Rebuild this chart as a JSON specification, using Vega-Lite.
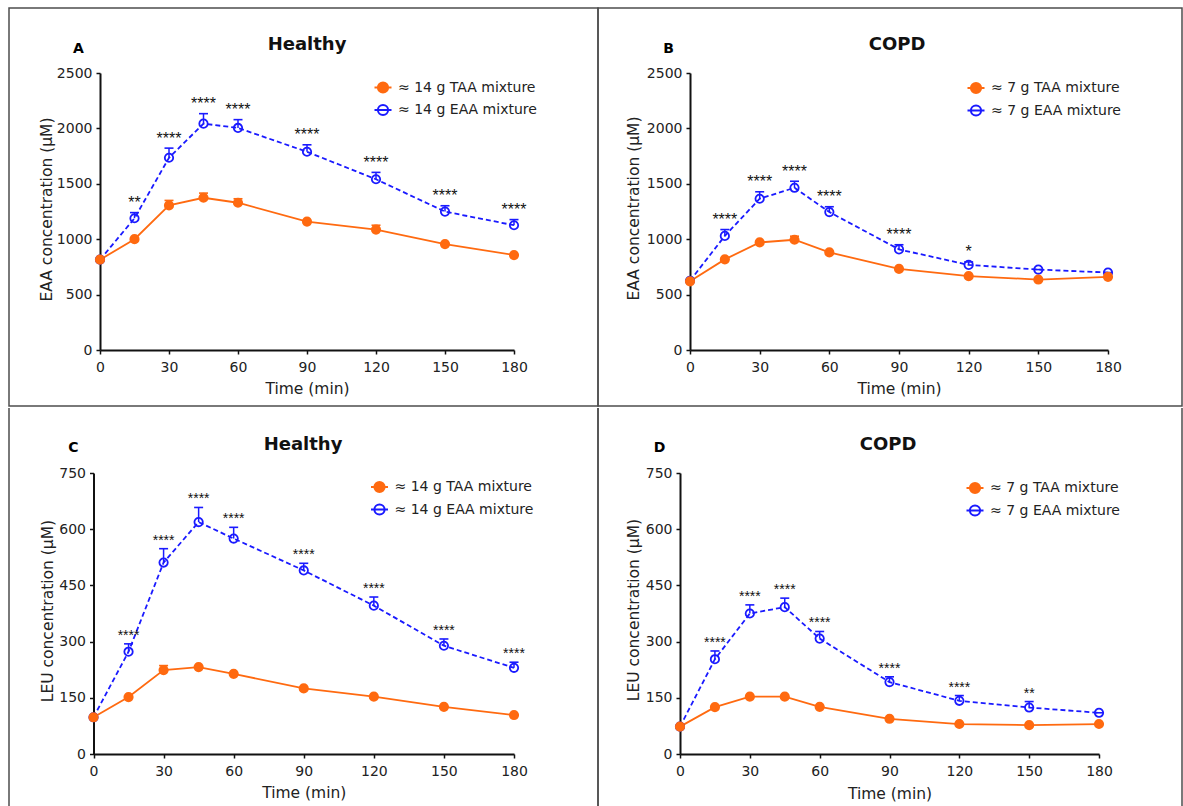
{
"$schema": "https://vega.github.io/schema/vega-lite/v6.json",
"padding": {"left": 8, "top": 7, "right": 0, "bottom": 0},
"config": {
 "font": "DejaVu Sans",
 "numberFormat": "d",
 "view": {"stroke": "#4d4d4d", "strokeWidth": 1.5},
 "axis": {"grid": false, "labelFont": "DejaVu Sans", "labelFontSize": 14, "labelColor": "#222", "labelFlush": false, "labelPadding": 4, "titleFont": "DejaVu Sans", "titleFontSize": 15.5, "titleFontWeight": "normal", "titleColor": "#222", "domainColor": "#111", "domainWidth": 2, "tickColor": "#111", "tickWidth": 1.5, "tickSize": 4},
 "axisX": {"labelPadding": 6},
 "legend": {"orient": "none", "symbolSize": 289, "symbolStrokeWidth": 2, "labelFont": "DejaVu Sans", "labelFontSize": 14, "labelColor": "#222", "labelOffset": 5.5, "rowPadding": 3.5, "padding": 0, "labelLimit": 400},
 "title": {"font": "DejaVu Sans", "fontSize": 18, "fontWeight": "bold", "color": "#111", "offset": -46, "anchor": "middle", "frame": "group"}
},
"data": {"name": "d"},
"datasets": {"d": [
 {"p":"A","s":"≈ 14 g EAA mixture","t":0,"m":815,"u":815,"st":""},
 {"p":"A","s":"≈ 14 g EAA mixture","t":15,"m":1189,"u":1240,"st":"**"},
 {"p":"A","s":"≈ 14 g EAA mixture","t":30,"m":1735,"u":1822,"st":"****"},
 {"p":"A","s":"≈ 14 g EAA mixture","t":45,"m":2043,"u":2133,"st":"****"},
 {"p":"A","s":"≈ 14 g EAA mixture","t":60,"m":2004,"u":2079,"st":"****"},
 {"p":"A","s":"≈ 14 g EAA mixture","t":90,"m":1789,"u":1852,"st":"****"},
 {"p":"A","s":"≈ 14 g EAA mixture","t":120,"m":1541,"u":1603,"st":"****"},
 {"p":"A","s":"≈ 14 g EAA mixture","t":150,"m":1249,"u":1302,"st":"****"},
 {"p":"A","s":"≈ 14 g EAA mixture","t":180,"m":1126,"u":1177,"st":"****"},
 {"p":"A","s":"≈ 14 g TAA mixture","t":0,"m":815,"u":815,"st":""},
 {"p":"A","s":"≈ 14 g TAA mixture","t":15,"m":1000,"u":1000,"st":""},
 {"p":"A","s":"≈ 14 g TAA mixture","t":30,"m":1305,"u":1350,"st":""},
 {"p":"A","s":"≈ 14 g TAA mixture","t":45,"m":1374,"u":1416,"st":""},
 {"p":"A","s":"≈ 14 g TAA mixture","t":60,"m":1329,"u":1365,"st":""},
 {"p":"A","s":"≈ 14 g TAA mixture","t":90,"m":1159,"u":1159,"st":""},
 {"p":"A","s":"≈ 14 g TAA mixture","t":120,"m":1087,"u":1126,"st":""},
 {"p":"A","s":"≈ 14 g TAA mixture","t":150,"m":956,"u":956,"st":""},
 {"p":"A","s":"≈ 14 g TAA mixture","t":180,"m":857,"u":857,"st":""},
 {"p":"B","s":"≈ 7 g EAA mixture","t":0,"m":625,"u":625,"st":""},
 {"p":"B","s":"≈ 7 g EAA mixture","t":15,"m":1030,"u":1087,"st":"****"},
 {"p":"B","s":"≈ 7 g EAA mixture","t":30,"m":1365,"u":1428,"st":"****"},
 {"p":"B","s":"≈ 7 g EAA mixture","t":45,"m":1464,"u":1523,"st":"****"},
 {"p":"B","s":"≈ 7 g EAA mixture","t":60,"m":1245,"u":1293,"st":"****"},
 {"p":"B","s":"≈ 7 g EAA mixture","t":90,"m":908,"u":950,"st":"****"},
 {"p":"B","s":"≈ 7 g EAA mixture","t":120,"m":768,"u":795,"st":"*"},
 {"p":"B","s":"≈ 7 g EAA mixture","t":150,"m":726,"u":726,"st":""},
 {"p":"B","s":"≈ 7 g EAA mixture","t":180,"m":699,"u":699,"st":""},
 {"p":"B","s":"≈ 7 g TAA mixture","t":0,"m":620,"u":620,"st":""},
 {"p":"B","s":"≈ 7 g TAA mixture","t":15,"m":818,"u":818,"st":""},
 {"p":"B","s":"≈ 7 g TAA mixture","t":30,"m":971,"u":971,"st":""},
 {"p":"B","s":"≈ 7 g TAA mixture","t":45,"m":995,"u":1027,"st":""},
 {"p":"B","s":"≈ 7 g TAA mixture","t":60,"m":881,"u":881,"st":""},
 {"p":"B","s":"≈ 7 g TAA mixture","t":90,"m":732,"u":732,"st":""},
 {"p":"B","s":"≈ 7 g TAA mixture","t":120,"m":666,"u":666,"st":""},
 {"p":"B","s":"≈ 7 g TAA mixture","t":150,"m":636,"u":636,"st":""},
 {"p":"B","s":"≈ 7 g TAA mixture","t":180,"m":660,"u":660,"st":""},
 {"p":"C","s":"≈ 14 g EAA mixture","t":0,"m":98,"u":98,"st":""},
 {"p":"C","s":"≈ 14 g EAA mixture","t":15,"m":273,"u":294,"st":"****"},
 {"p":"C","s":"≈ 14 g EAA mixture","t":30,"m":511,"u":548,"st":"****"},
 {"p":"C","s":"≈ 14 g EAA mixture","t":45,"m":619,"u":658,"st":"****"},
 {"p":"C","s":"≈ 14 g EAA mixture","t":60,"m":575,"u":605,"st":"****"},
 {"p":"C","s":"≈ 14 g EAA mixture","t":90,"m":490,"u":509,"st":"****"},
 {"p":"C","s":"≈ 14 g EAA mixture","t":120,"m":396,"u":419,"st":"****"},
 {"p":"C","s":"≈ 14 g EAA mixture","t":150,"m":289,"u":307,"st":"****"},
 {"p":"C","s":"≈ 14 g EAA mixture","t":180,"m":230,"u":245,"st":"****"},
 {"p":"C","s":"≈ 14 g TAA mixture","t":0,"m":98,"u":98,"st":""},
 {"p":"C","s":"≈ 14 g TAA mixture","t":15,"m":152,"u":152,"st":""},
 {"p":"C","s":"≈ 14 g TAA mixture","t":30,"m":224,"u":236,"st":""},
 {"p":"C","s":"≈ 14 g TAA mixture","t":45,"m":232,"u":232,"st":""},
 {"p":"C","s":"≈ 14 g TAA mixture","t":60,"m":214,"u":214,"st":""},
 {"p":"C","s":"≈ 14 g TAA mixture","t":90,"m":175,"u":175,"st":""},
 {"p":"C","s":"≈ 14 g TAA mixture","t":120,"m":153,"u":153,"st":""},
 {"p":"C","s":"≈ 14 g TAA mixture","t":150,"m":126,"u":126,"st":""},
 {"p":"C","s":"≈ 14 g TAA mixture","t":180,"m":104,"u":104,"st":""},
 {"p":"D","s":"≈ 7 g EAA mixture","t":0,"m":73,"u":73,"st":""},
 {"p":"D","s":"≈ 7 g EAA mixture","t":15,"m":253,"u":275,"st":"****"},
 {"p":"D","s":"≈ 7 g EAA mixture","t":30,"m":375,"u":398,"st":"****"},
 {"p":"D","s":"≈ 7 g EAA mixture","t":45,"m":392,"u":416,"st":"****"},
 {"p":"D","s":"≈ 7 g EAA mixture","t":60,"m":308,"u":327,"st":"****"},
 {"p":"D","s":"≈ 7 g EAA mixture","t":90,"m":192,"u":206,"st":"****"},
 {"p":"D","s":"≈ 7 g EAA mixture","t":120,"m":142,"u":156,"st":"****"},
 {"p":"D","s":"≈ 7 g EAA mixture","t":150,"m":124,"u":140,"st":"**"},
 {"p":"D","s":"≈ 7 g EAA mixture","t":180,"m":110,"u":110,"st":""},
 {"p":"D","s":"≈ 7 g TAA mixture","t":0,"m":73,"u":73,"st":""},
 {"p":"D","s":"≈ 7 g TAA mixture","t":15,"m":125,"u":125,"st":""},
 {"p":"D","s":"≈ 7 g TAA mixture","t":30,"m":153,"u":153,"st":""},
 {"p":"D","s":"≈ 7 g TAA mixture","t":45,"m":153,"u":153,"st":""},
 {"p":"D","s":"≈ 7 g TAA mixture","t":60,"m":126,"u":126,"st":""},
 {"p":"D","s":"≈ 7 g TAA mixture","t":90,"m":94,"u":94,"st":""},
 {"p":"D","s":"≈ 7 g TAA mixture","t":120,"m":80,"u":80,"st":""},
 {"p":"D","s":"≈ 7 g TAA mixture","t":150,"m":77,"u":77,"st":""},
 {"p":"D","s":"≈ 7 g TAA mixture","t":180,"m":80,"u":80,"st":""}
]},
"spacing": 0,
"resolve": {"scale": {"color": "independent", "fill": "independent", "stroke": "independent"}, "legend": {"color": "independent", "fill": "independent", "stroke": "independent"}},
"vconcat": [
 {"hconcat": [
  {
   "width": 589, "height": 398,
   "title": {"text": "Healthy", "dx": 3.5},
   "transform": [{"filter": "datum.p === 'A'"}],
   "resolve": {"axis": {"x": "independent"}},
   "encoding": {
    "x": {"field": "t", "type": "quantitative", "scale": {"domain": [0, 180], "range": [91, 505], "nice": false}, "axis": null},
    "y": {"field": "m", "type": "quantitative", "scale": {"domain": [0, 2500], "range": [342, 65], "nice": false}, "axis": {"offset": -91, "values": [0, 500, 1000, 1500, 2000, 2500], "title": "EAA concentration (μM)", "titleX": -54, "titleY": 201, "titleAlign": "center", "titleBaseline": "middle"}}
   },
   "layer": [
    {"transform": [{"filter": "indexof(datum.s, 'TAA') >= 0"}],
     "mark": {"type": "line", "strokeWidth": 1.8},
     "encoding": {
      "x": {"field": "t", "type": "quantitative", "axis": {"offset": -56, "values": [0, 30, 60, 90, 120, 150, 180], "title": "Time (min)", "titleY": 38, "titleBaseline": "middle"}},
      "color": {"field": "s", "type": "nominal", "scale": {"domain": ["≈ 14 g TAA mixture", "≈ 14 g EAA mixture"], "range": ["#FF6A10", "#1A1AFF"]}, "legend": {"title": null, "legendX": 364.5, "legendY": 70, "symbolType": "M-1,0L1,0M0.6,0A0.6,0.6,0,1,1,-0.6,0A0.6,0.6,0,1,1,0.6,0", "encode": {"symbols": {"update": {"fill": {"signal": "indexof(datum.value, 'TAA') >= 0 ? '#FF6A10' : 'transparent'"}, "stroke": {"signal": "indexof(datum.value, 'TAA') >= 0 ? '#FF6A10' : '#1A1AFF'"}, "strokeWidth": {"value": 2}, "opacity": {"value": 1}}}}}}
     }},
    {"transform": [{"filter": "indexof(datum.s, 'EAA') >= 0"}],
     "mark": {"type": "line", "strokeWidth": 1.8, "strokeDash": [5, 3]},
     "encoding": {"stroke": {"field": "s", "type": "nominal", "legend": null}}},
    {"mark": {"type": "rule", "strokeWidth": 1.5}, "encoding": {"y2": {"field": "u"}, "stroke": {"field": "s", "type": "nominal", "scale": {"domain": ["≈ 14 g TAA mixture", "≈ 14 g EAA mixture"], "range": ["#FF6A10", "#1A1AFF"]}, "legend": null}}},
    {"mark": {"type": "point", "shape": "M-1,0L1,0", "size": 81, "strokeWidth": 1.6, "filled": false, "opacity": 1}, "encoding": {"y": {"field": "u"}, "stroke": {"field": "s", "type": "nominal", "legend": null}}},
    {"mark": {"type": "point", "shape": "circle", "size": 70, "strokeWidth": 1.8, "filled": false, "opacity": 1},
     "encoding": {"stroke": {"field": "s", "type": "nominal", "legend": null}, "fill": {"field": "s", "type": "nominal", "scale": {"domain": ["≈ 14 g TAA mixture", "≈ 14 g EAA mixture"], "range": ["#FF6A10", "transparent"]}, "legend": null}}},
    {"transform": [{"filter": "datum.st !== ''"}],
     "mark": {"type": "text", "dy": -4.5, "baseline": "alphabetic", "fontSize": 16, "font": "Liberation Sans"},
     "encoding": {
      "x": {"field": "t", "type": "quantitative", "axis": {"orient": "top", "domain": false, "ticks": false, "labels": false, "title": "A", "titleX": 69, "titleY": 40, "titleAngle": 0, "titleAlign": "center", "titleBaseline": "middle", "titleFontSize": 14, "titleFontWeight": "bold", "titleColor": "#000"}},
      "y": {"field": "u"},
      "text": {"field": "st"},
      "color": {"value": "#111"}
     }}
   ]
  },
  {
   "width": 584, "height": 398,
   "title": {"text": "COPD", "dx": 7},
   "transform": [{"filter": "datum.p === 'B'"}],
   "resolve": {"axis": {"x": "independent"}},
   "encoding": {
    "x": {"field": "t", "type": "quantitative", "scale": {"domain": [0, 180], "range": [92, 510], "nice": false}, "axis": null},
    "y": {"field": "m", "type": "quantitative", "scale": {"domain": [0, 2500], "range": [342, 65], "nice": false}, "axis": {"offset": -92, "values": [0, 500, 1000, 1500, 2000, 2500], "title": "EAA concentration (μM)", "titleX": -56.5, "titleY": 200, "titleAlign": "center", "titleBaseline": "middle"}}
   },
   "layer": [
    {"transform": [{"filter": "indexof(datum.s, 'TAA') >= 0"}],
     "mark": {"type": "line", "strokeWidth": 1.8},
     "encoding": {
      "x": {"field": "t", "type": "quantitative", "axis": {"offset": -56, "values": [0, 30, 60, 90, 120, 150, 180], "title": "Time (min)", "titleY": 38, "titleBaseline": "middle"}},
      "color": {"field": "s", "type": "nominal", "scale": {"domain": ["≈ 7 g TAA mixture", "≈ 7 g EAA mixture"], "range": ["#FF6A10", "#1A1AFF"]}, "legend": {"title": null, "legendX": 368.5, "legendY": 70.5, "symbolType": "M-1,0L1,0M0.6,0A0.6,0.6,0,1,1,-0.6,0A0.6,0.6,0,1,1,0.6,0", "encode": {"symbols": {"update": {"fill": {"signal": "indexof(datum.value, 'TAA') >= 0 ? '#FF6A10' : 'transparent'"}, "stroke": {"signal": "indexof(datum.value, 'TAA') >= 0 ? '#FF6A10' : '#1A1AFF'"}, "strokeWidth": {"value": 2}, "opacity": {"value": 1}}}}}}
     }},
    {"transform": [{"filter": "indexof(datum.s, 'EAA') >= 0"}],
     "mark": {"type": "line", "strokeWidth": 1.8, "strokeDash": [5, 3]},
     "encoding": {"stroke": {"field": "s", "type": "nominal", "legend": null}}},
    {"mark": {"type": "rule", "strokeWidth": 1.5}, "encoding": {"y2": {"field": "u"}, "stroke": {"field": "s", "type": "nominal", "scale": {"domain": ["≈ 7 g TAA mixture", "≈ 7 g EAA mixture"], "range": ["#FF6A10", "#1A1AFF"]}, "legend": null}}},
    {"mark": {"type": "point", "shape": "M-1,0L1,0", "size": 81, "strokeWidth": 1.6, "filled": false, "opacity": 1}, "encoding": {"y": {"field": "u"}, "stroke": {"field": "s", "type": "nominal", "legend": null}}},
    {"mark": {"type": "point", "shape": "circle", "size": 70, "strokeWidth": 1.8, "filled": false, "opacity": 1},
     "encoding": {"stroke": {"field": "s", "type": "nominal", "legend": null}, "fill": {"field": "s", "type": "nominal", "scale": {"domain": ["≈ 7 g TAA mixture", "≈ 7 g EAA mixture"], "range": ["#FF6A10", "transparent"]}, "legend": null}}},
    {"transform": [{"filter": "datum.st !== ''"}],
     "mark": {"type": "text", "dy": -4.5, "baseline": "alphabetic", "fontSize": 16, "font": "Liberation Sans"},
     "encoding": {
      "x": {"field": "t", "type": "quantitative", "axis": {"orient": "top", "domain": false, "ticks": false, "labels": false, "title": "B", "titleX": 70, "titleY": 40, "titleAngle": 0, "titleAlign": "center", "titleBaseline": "middle", "titleFontSize": 14, "titleFontWeight": "bold", "titleColor": "#000"}},
      "y": {"field": "u"},
      "text": {"field": "st"},
      "color": {"value": "#111"}
     }}
   ]
  }
 ], "spacing": 0, "bounds": "flush", "resolve": {"scale": {"color": "independent", "fill": "independent", "stroke": "independent"}, "legend": {"color": "independent", "fill": "independent", "stroke": "independent"}}},
 {"hconcat": [
  {
   "width": 589, "height": 400,
   "view": {"stroke": "#4d4d4d", "strokeWidth": 1.5, "strokeDash": [0, 589, 400, 589, 400, 0]},
   "title": {"text": "Healthy", "dx": -0.5},
   "transform": [{"filter": "datum.p === 'C'"}],
   "resolve": {"axis": {"x": "independent"}},
   "encoding": {
    "x": {"field": "t", "type": "quantitative", "scale": {"domain": [0, 180], "range": [84.5, 505], "nice": false}, "axis": null},
    "y": {"field": "m", "type": "quantitative", "scale": {"domain": [0, 750], "range": [346, 65], "nice": false}, "axis": {"offset": -84.5, "values": [0, 150, 300, 450, 600, 750], "title": "LEU concentration (μM)", "titleX": -46.5, "titleY": 202.5, "titleAlign": "center", "titleBaseline": "middle"}}
   },
   "layer": [
    {"transform": [{"filter": "indexof(datum.s, 'TAA') >= 0"}],
     "mark": {"type": "line", "strokeWidth": 1.8},
     "encoding": {
      "x": {"field": "t", "type": "quantitative", "axis": {"offset": -54, "values": [0, 30, 60, 90, 120, 150, 180], "title": "Time (min)", "titleY": 38, "titleBaseline": "middle"}},
      "color": {"field": "s", "type": "nominal", "scale": {"domain": ["≈ 14 g TAA mixture", "≈ 14 g EAA mixture"], "range": ["#FF6A10", "#1A1AFF"]}, "legend": {"title": null, "legendX": 361, "legendY": 69.5, "symbolType": "M-1,0L1,0M0.6,0A0.6,0.6,0,1,1,-0.6,0A0.6,0.6,0,1,1,0.6,0", "encode": {"symbols": {"update": {"fill": {"signal": "indexof(datum.value, 'TAA') >= 0 ? '#FF6A10' : 'transparent'"}, "stroke": {"signal": "indexof(datum.value, 'TAA') >= 0 ? '#FF6A10' : '#1A1AFF'"}, "strokeWidth": {"value": 2}, "opacity": {"value": 1}}}}}}
     }},
    {"transform": [{"filter": "indexof(datum.s, 'EAA') >= 0"}],
     "mark": {"type": "line", "strokeWidth": 1.8, "strokeDash": [5, 3]},
     "encoding": {"stroke": {"field": "s", "type": "nominal", "legend": null}}},
    {"mark": {"type": "rule", "strokeWidth": 1.5}, "encoding": {"y2": {"field": "u"}, "stroke": {"field": "s", "type": "nominal", "scale": {"domain": ["≈ 14 g TAA mixture", "≈ 14 g EAA mixture"], "range": ["#FF6A10", "#1A1AFF"]}, "legend": null}}},
    {"mark": {"type": "point", "shape": "M-1,0L1,0", "size": 81, "strokeWidth": 1.6, "filled": false, "opacity": 1}, "encoding": {"y": {"field": "u"}, "stroke": {"field": "s", "type": "nominal", "legend": null}}},
    {"mark": {"type": "point", "shape": "circle", "size": 70, "strokeWidth": 1.8, "filled": false, "opacity": 1},
     "encoding": {"stroke": {"field": "s", "type": "nominal", "legend": null}, "fill": {"field": "s", "type": "nominal", "scale": {"domain": ["≈ 14 g TAA mixture", "≈ 14 g EAA mixture"], "range": ["#FF6A10", "transparent"]}, "legend": null}}},
    {"transform": [{"filter": "datum.st !== ''"}],
     "mark": {"type": "text", "dy": -4, "baseline": "alphabetic", "fontSize": 14, "font": "Liberation Sans"},
     "encoding": {
      "x": {"field": "t", "type": "quantitative", "axis": {"orient": "top", "domain": false, "ticks": false, "labels": false, "title": "C", "titleX": 64, "titleY": 39, "titleAngle": 0, "titleAlign": "center", "titleBaseline": "middle", "titleFontSize": 14, "titleFontWeight": "bold", "titleColor": "#000"}},
      "y": {"field": "u"},
      "text": {"field": "st"},
      "color": {"value": "#111"}
     }}
   ]
  },
  {
   "width": 584, "height": 400,
   "view": {"stroke": "#4d4d4d", "strokeWidth": 1.5, "strokeDash": [0, 584, 400, 584, 400, 0]},
   "title": {"text": "COPD", "dx": -2},
   "transform": [{"filter": "datum.p === 'D'"}],
   "resolve": {"axis": {"x": "independent"}},
   "encoding": {
    "x": {"field": "t", "type": "quantitative", "scale": {"domain": [0, 180], "range": [82, 501], "nice": false}, "axis": null},
    "y": {"field": "m", "type": "quantitative", "scale": {"domain": [0, 750], "range": [346, 65], "nice": false}, "axis": {"offset": -82, "values": [0, 150, 300, 450, 600, 750], "title": "LEU concentration (μM)", "titleX": -46.5, "titleY": 201.5, "titleAlign": "center", "titleBaseline": "middle"}}
   },
   "layer": [
    {"transform": [{"filter": "indexof(datum.s, 'TAA') >= 0"}],
     "mark": {"type": "line", "strokeWidth": 1.8},
     "encoding": {
      "x": {"field": "t", "type": "quantitative", "axis": {"offset": -54, "values": [0, 30, 60, 90, 120, 150, 180], "title": "Time (min)", "titleY": 39, "titleBaseline": "middle"}},
      "color": {"field": "s", "type": "nominal", "scale": {"domain": ["≈ 7 g TAA mixture", "≈ 7 g EAA mixture"], "range": ["#FF6A10", "#1A1AFF"]}, "legend": {"title": null, "legendX": 367.5, "legendY": 70.5, "symbolType": "M-1,0L1,0M0.6,0A0.6,0.6,0,1,1,-0.6,0A0.6,0.6,0,1,1,0.6,0", "encode": {"symbols": {"update": {"fill": {"signal": "indexof(datum.value, 'TAA') >= 0 ? '#FF6A10' : 'transparent'"}, "stroke": {"signal": "indexof(datum.value, 'TAA') >= 0 ? '#FF6A10' : '#1A1AFF'"}, "strokeWidth": {"value": 2}, "opacity": {"value": 1}}}}}}
     }},
    {"transform": [{"filter": "indexof(datum.s, 'EAA') >= 0"}],
     "mark": {"type": "line", "strokeWidth": 1.8, "strokeDash": [5, 3]},
     "encoding": {"stroke": {"field": "s", "type": "nominal", "legend": null}}},
    {"mark": {"type": "rule", "strokeWidth": 1.5}, "encoding": {"y2": {"field": "u"}, "stroke": {"field": "s", "type": "nominal", "scale": {"domain": ["≈ 7 g TAA mixture", "≈ 7 g EAA mixture"], "range": ["#FF6A10", "#1A1AFF"]}, "legend": null}}},
    {"mark": {"type": "point", "shape": "M-1,0L1,0", "size": 81, "strokeWidth": 1.6, "filled": false, "opacity": 1}, "encoding": {"y": {"field": "u"}, "stroke": {"field": "s", "type": "nominal", "legend": null}}},
    {"mark": {"type": "point", "shape": "circle", "size": 70, "strokeWidth": 1.8, "filled": false, "opacity": 1},
     "encoding": {"stroke": {"field": "s", "type": "nominal", "legend": null}, "fill": {"field": "s", "type": "nominal", "scale": {"domain": ["≈ 7 g TAA mixture", "≈ 7 g EAA mixture"], "range": ["#FF6A10", "transparent"]}, "legend": null}}},
    {"transform": [{"filter": "datum.st !== ''"}],
     "mark": {"type": "text", "dy": -4, "baseline": "alphabetic", "fontSize": 14, "font": "Liberation Sans"},
     "encoding": {
      "x": {"field": "t", "type": "quantitative", "axis": {"orient": "top", "domain": false, "ticks": false, "labels": false, "title": "D", "titleX": 61, "titleY": 39, "titleAngle": 0, "titleAlign": "center", "titleBaseline": "middle", "titleFontSize": 14, "titleFontWeight": "bold", "titleColor": "#000"}},
      "y": {"field": "u"},
      "text": {"field": "st"},
      "color": {"value": "#111"}
     }}
   ]
  }
 ], "spacing": 0, "bounds": "flush", "resolve": {"scale": {"color": "independent", "fill": "independent", "stroke": "independent"}, "legend": {"color": "independent", "fill": "independent", "stroke": "independent"}}}
]
}
